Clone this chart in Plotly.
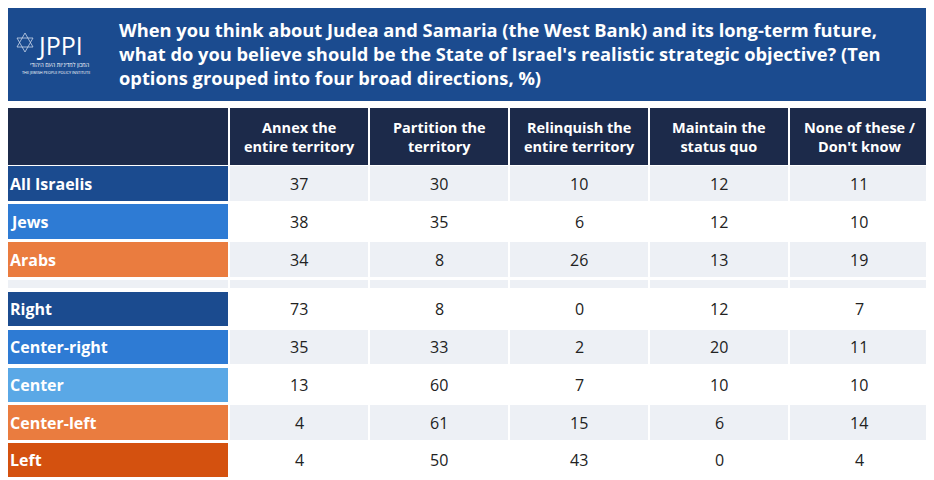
import plotly.graph_objects as go

columns = ["Annex the<br>entire territory", "Partition the<br>territory", "Relinquish the<br>entire territory",
           "Maintain the<br>status quo", "None of these /<br>Don't know"]
groups = ["All Israelis", "Jews", "Arabs", None, "Right", "Center-right", "Center", "Center-left", "Left"]
group_colors = ["#1b4b8f", "#2e7bd4", "#ea7c3f", None, "#1b4b8f", "#2e7bd4", "#5aa8e6", "#ea7c3f", "#d4510f"]
values = [
    [37, 30, 10, 12, 11],
    [38, 35, 6, 12, 10],
    [34, 8, 26, 13, 19],
    None,
    [73, 8, 0, 12, 7],
    [35, 33, 2, 20, 11],
    [13, 60, 7, 10, 10],
    [4, 61, 15, 6, 14],
    [4, 50, 43, 0, 4],
]
title = ("When you think about Judea and Samaria (the West Bank) and its long-term future,<br>"
         "what do you believe should be the State of Israel's realistic strategic objective? (Ten<br>"
         "options grouped into four broad directions, %)")

FONT = "Open Sans"
fig = go.Figure()
shapes, ann = [], []

# banner
shapes.append(dict(type="rect", x0=4, x1=930, y0=4, y1=101, fillcolor="#1b4b8f", line_width=0))
ann.append(dict(x=117, y=53, text="<b>" + title + "</b>", showarrow=False, xanchor="left", yanchor="middle",
                align="left", font=dict(family=FONT, size=18.3, color="white")))
ann.append(dict(x=35, y=45, text="JPPI", showarrow=False, xanchor="left", yanchor="middle",
                font=dict(family=FONT, size=25, color="white")))
ann.append(dict(x=92, y=65, text="המכון למדיניות העם היהודי", showarrow=False, xanchor="right",
                font=dict(family=FONT, size=5.5, color="white")))
ann.append(dict(x=92, y=72, text="THE JEWISH PEOPLE POLICY INSTITUTE", showarrow=False, xanchor="right",
                font=dict(family=FONT, size=3.8, color="white")))
for pts in ["M 25 33 L 33 47 L 17 47 Z", "M 25 52 L 33 38 L 17 38 Z"]:
    shapes.append(dict(type="path", path=pts, line=dict(color="#c8d4e8", width=0.8)))

# header
col_x = [(230, 368), (370, 508), (510, 648), (650, 788), (790, 928)]
shapes.append(dict(type="rect", x0=4, x1=228, y0=108, y1=165, fillcolor="#1c2a4a", line_width=0))
for (a, b), c in zip(col_x, columns):
    shapes.append(dict(type="rect", x0=a, x1=b, y0=108, y1=165, fillcolor="#1c2a4a", line_width=0))
    ann.append(dict(x=(a + b) / 2, y=136.5, text="<b>" + c + "</b>", showarrow=False,
                    font=dict(family=FONT, size=14.5, color="white")))

rows_y = [(166, 201), (204, 239), (242, 277), (280, 288), (292, 326), (330, 364), (368, 402), (405, 440), (443, 477)]
shade = [True, False, True, True, False, True, False, True, False]
for i, (y0, y1) in enumerate(rows_y):
    bg = "#edf0f5" if shade[i] else "white"
    for a, b in col_x:
        shapes.append(dict(type="rect", x0=a, x1=b, y0=y0, y1=y1, fillcolor=bg, line_width=0))
    if groups[i] is None:
        shapes.append(dict(type="rect", x0=4, x1=228, y0=y0, y1=y1, fillcolor="#edf0f5", line_width=0))
        continue
    shapes.append(dict(type="rect", x0=4, x1=228, y0=y0, y1=y1, fillcolor=group_colors[i], line_width=0))
    ann.append(dict(x=8, y=(y0 + y1) / 2, text="<b>" + groups[i] + "</b>", showarrow=False, xanchor="left",
                    font=dict(family=FONT, size=16, color="white")))
    for (a, b), v in zip(col_x, values[i]):
        ann.append(dict(x=(a + b) / 2, y=(y0 + y1) / 2, text=str(v), showarrow=False,
                        font=dict(family=FONT, size=16, color="#222222")))

# page body has an 8px offset; shift the axis ranges to compensate
fig.update_layout(
    width=934, height=480, margin=dict(l=0, r=0, t=0, b=0),
    paper_bgcolor="white", plot_bgcolor="white",
    xaxis=dict(range=[8, 942], visible=False, fixedrange=True),
    yaxis=dict(range=[488, 8], visible=False, fixedrange=True),
    shapes=shapes, annotations=ann, showlegend=False,
)
fig.write_html("out.html", config={"displayModeBar": False})
